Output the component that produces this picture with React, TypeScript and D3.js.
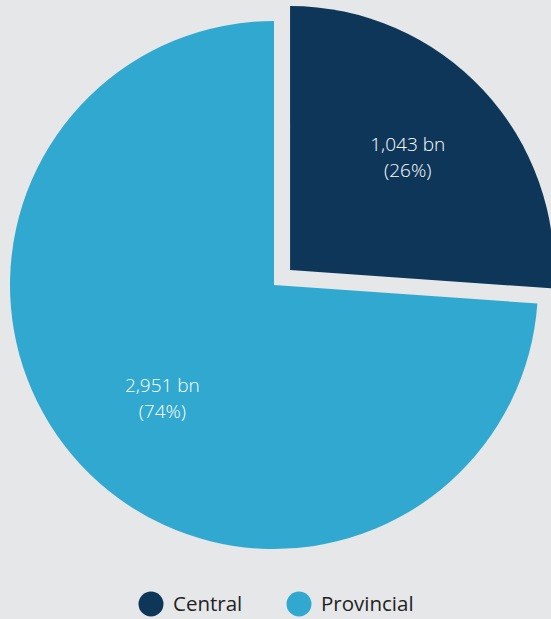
import React from "react";
import * as d3 from "d3";

const categories = ["Central", "Provincial"];
const values = [1043, 2951];
const valueLabels = ["1,043 bn", "2,951 bn"];
const percentLabels = ["(26%)", "(74%)"];
const colors = ["#0e3659", "#31a8d0"];

const W = 551;
const H = 619;

export default function App() {
  const cx = 274;
  const cy = 285;
  const r = 264;
  const explode = 22;
  const pie = d3.pie<number>().sort(null).value((d) => d);
  const arcs = pie(values);
  const arc = d3.arc<d3.PieArcDatum<number>>().innerRadius(0).outerRadius(r);
  const labelArc = d3
    .arc<d3.PieArcDatum<number>>()
    .innerRadius(r * 0.63)
    .outerRadius(r * 0.63);
  const font = "'Open Sans', Lato, sans-serif";
  const nudgeX = [-4, 10];

  const legendX = [151, 299];
  return (
    <svg
      width={W}
      height={H}
      style={{ position: "absolute", left: 0, top: 0, background: "#e6e7e9" }}
    >
      <rect x={0} y={0} width={W} height={H} fill="#e6e7e9" />
      {arcs.map((a, i) => {
        const mid = (a.startAngle + a.endAngle) / 2;
        const off = i === 0 ? explode : 0;
        const dx = Math.sin(mid) * off;
        const dy = -Math.cos(mid) * off;
        const [lx0, ly] = labelArc.centroid(a);
        const lx = lx0 + nudgeX[i];
        return (
          <g key={categories[i]} transform={`translate(${cx + dx},${cy + dy})`}>
            <path d={arc(a) || ""} fill={colors[i]} />
            <text
              x={lx}
              y={ly - 6}
              textAnchor="middle"
              fill="#ffffff"
              fontFamily={font}
              fontWeight={300}
              fontSize={19}
            >
              {valueLabels[i]}
            </text>
            <text
              x={lx}
              y={ly + 20}
              textAnchor="middle"
              fill="#ffffff"
              fontFamily={font}
              fontWeight={300}
              fontSize={19}
            >
              {percentLabels[i]}
            </text>
          </g>
        );
      })}
      {categories.map((c, i) => (
        <g key={c}>
          <circle cx={legendX[i]} cy={604} r={12.5} fill={colors[i]} />
          <text
            x={legendX[i] + 22}
            y={611}
            fill="#222222"
            fontFamily={font}
            fontSize={20.5}
          >
            {c}
          </text>
        </g>
      ))}
    </svg>
  );
}
